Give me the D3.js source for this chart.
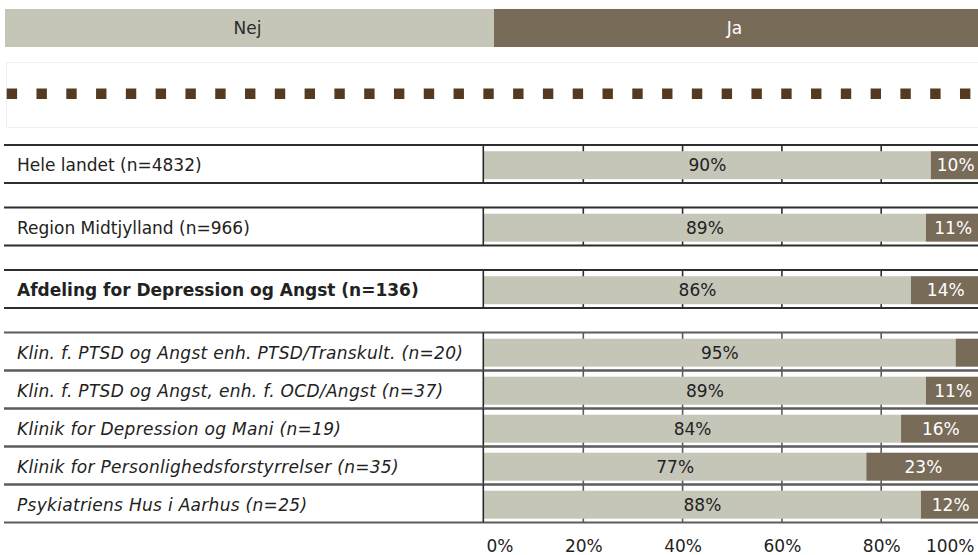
<!DOCTYPE html>
<html lang="da">
<head>
<meta charset="utf-8">
<title>Nej / Ja</title>
<script src="https://cdn.jsdelivr.net/npm/d3@7"></script>
<style>
  html, body { margin: 0; padding: 0; background: #ffffff; }
  svg { display: block; font-family: "DejaVu Sans", Verdana, sans-serif; }
</style>
</head>
<body>
<svg id="chart" width="978" height="555"></svg>
<script>
// Answer categories shown in the header band
const answers = ["Nej", "Ja"];

// Units, top to bottom
const categories = [
  "Hele landet (n=4832)",
  "Region Midtjylland (n=966)",
  "Afdeling for Depression og Angst (n=136)",
  "Klin. f. PTSD og Angst enh. PTSD/Transkult. (n=20)",
  "Klin. f. PTSD og Angst, enh. f. OCD/Angst (n=37)",
  "Klinik for Depression og Mani (n=19)",
  "Klinik for Personlighedsforstyrrelser (n=35)",
  "Psykiatriens Hus i Aarhus (n=25)"
];

// Organisational level of each unit
const levels = ["land", "region", "afdeling", "klinik", "klinik", "klinik", "klinik", "klinik"];

// Share of answers in percent
const nejValues = [90, 89, 86, 95, 89, 84, 77, 88];
const jaValues  = [10, 11, 14, 5, 11, 16, 23, 12];

// Percent axis
const tickValues = [0, 20, 40, 60, 80, 100];

const colors = { Nej: "#c5c6b8", Ja: "#786b58" };
const svg = d3.select("#chart");
const W = 978;
const fontSize = 17;
const capShift = fontSize * 0.365;

// ---- header band with the two answer categories
const band = d3.scaleBand().domain(answers).range([5, 983]).paddingInner(0);
const header = svg.append("g");
header.selectAll("rect").data(answers).join("rect")
  .attr("x", d => band(d)).attr("y", 9)
  .attr("width", band.bandwidth()).attr("height", 38)
  .attr("fill", d => colors[d]);
header.selectAll("text").data(answers).join("text")
  .attr("x", d => band(d) + band.bandwidth() / 2 - (d === "Ja" ? 4 : 2))
  .attr("y", 28 + capShift)
  .attr("text-anchor", "middle")
  .attr("font-size", fontSize)
  .attr("fill", d => d === "Ja" ? "#ffffff" : "#2b2b2b")
  .text(d => d);

// ---- dotted separator panel
svg.append("rect")
  .attr("x", 6.5).attr("y", 62.5).attr("width", 990).attr("height", 65)
  .attr("fill", "none").attr("stroke", "#efefef").attr("stroke-width", 1);
svg.append("line")
  .attr("x1", 6.7).attr("x2", W).attr("y1", 93.7).attr("y2", 93.7)
  .attr("stroke", "#553a22").attr("stroke-width", 10.6)
  .attr("stroke-dasharray", "10.4 19.39");

// ---- row layout: blank strip between different organisational levels
const rowH = 38, gapH = 24.5, firstTop = 145;
const tops = [];
categories.forEach((c, i) => {
  if (i === 0) tops.push(firstTop);
  else tops.push(tops[i - 1] + rowH + (levels[i] !== levels[i - 1] ? gapH : 0));
});
const y = d3.scaleOrdinal().domain(categories).range(tops);
const x = d3.scaleLinear().domain([0, 100]).range([484, 980.5]);

const rows = categories.map((c, i) => ({
  name: c, level: levels[i], nej: nejValues[i], ja: jaValues[i]
}));

const lineColor = d => d.level === "klinik" ? "#5c5c5c" : "#2e2e2e";

const rowG = svg.append("g").selectAll("g").data(rows).join("g")
  .attr("transform", d => `translate(0,${y(d.name)})`);

// gridlines inside each row
rowG.each(function (d) {
  d3.select(this).selectAll("line.grid").data(tickValues.slice(1)).join("line")
    .attr("class", "grid")
    .attr("x1", t => x(t)).attr("x2", t => x(t))
    .attr("y1", 0).attr("y2", rowH)
    .attr("stroke", lineColor(d)).attr("stroke-width", 1.6);
});

// stacked bars
const barTop = 6.2, barH = 28;
rowG.append("rect")
  .attr("x", x(0)).attr("y", barTop)
  .attr("width", d => x(d.nej) - x(0)).attr("height", barH)
  .attr("fill", colors.Nej);
rowG.append("rect")
  .attr("x", d => x(d.nej)).attr("y", barTop)
  .attr("width", d => x(d.nej + d.ja) - x(d.nej)).attr("height", barH)
  .attr("fill", colors.Ja);

// row borders and label separator
rowG.append("line")
  .attr("x1", 4).attr("x2", W).attr("y1", 0).attr("y2", 0)
  .attr("stroke", lineColor).attr("stroke-width", 2);
rowG.append("line")
  .attr("x1", 4).attr("x2", W).attr("y1", rowH).attr("y2", rowH)
  .attr("stroke", lineColor).attr("stroke-width", 2);
rowG.append("line")
  .attr("x1", 483.3).attr("x2", 483.3).attr("y1", 0).attr("y2", rowH)
  .attr("stroke", "#2a2a2a").attr("stroke-width", 1.6);

// unit names
rowG.append("text")
  .attr("x", 17).attr("y", 20 + capShift)
  .attr("font-size", fontSize)
  .attr("fill", "#222222")
  .attr("font-weight", d => d.level === "afdeling" ? "bold" : "normal")
  .attr("font-style", d => d.level === "klinik" ? "italic" : "normal")
  .attr("letter-spacing", d => d.level === "klinik" ? 0.3 : 0)
  .text(d => d.name);

// value labels
const fmt = v => v + "%";
rowG.append("text")
  .attr("x", d => (x(0) + x(d.nej)) / 2).attr("y", 20 + capShift)
  .attr("text-anchor", "middle").attr("font-size", fontSize)
  .attr("fill", "#222222")
  .text(d => fmt(d.nej));
rowG.filter(d => x(d.nej + d.ja) - x(d.nej) > 35).append("text")
  .attr("x", d => (x(d.nej) + x(d.nej + d.ja)) / 2).attr("y", 20 + capShift)
  .attr("text-anchor", "middle").attr("font-size", fontSize)
  .attr("fill", "#ffffff")
  .text(d => fmt(d.ja));

// ---- percent axis
const axisG = svg.append("g")
  .attr("transform", `translate(0,537)`)
  .call(d3.axisBottom(x).tickValues(tickValues).tickFormat(fmt).tickSize(0).tickPadding(3));
axisG.select(".domain").remove();
axisG.selectAll("text")
  .attr("font-size", fontSize)
  .attr("font-family", "DejaVu Sans, Verdana, sans-serif")
  .attr("fill", "#222222");
// keep the end labels inside the plot area
axisG.selectAll(".tick").filter(d => d === tickValues[0]).select("text")
  .attr("text-anchor", "start").attr("x", 2);
axisG.selectAll(".tick").filter(d => d === tickValues[tickValues.length - 1]).select("text")
  .attr("text-anchor", "end").attr("x", 974 - x(100));
</script>
</body>
</html>
